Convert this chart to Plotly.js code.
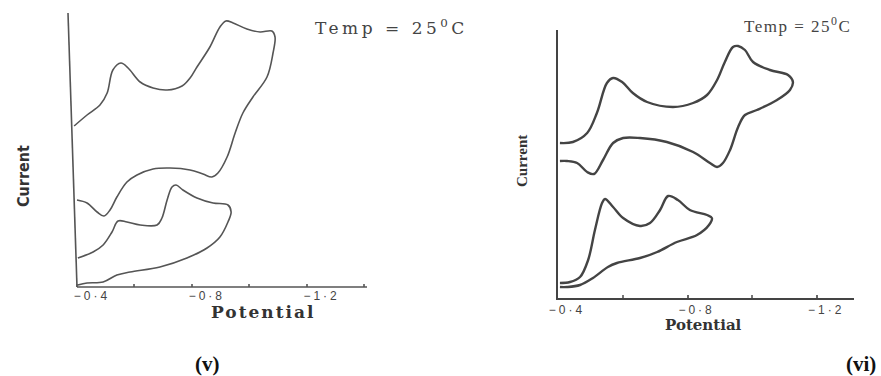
<!DOCTYPE html>
<html>
<head>
<meta charset="utf-8">
<script src="https://cdn.plot.ly/plotly-3.0.1.min.js"></script>
<style>html,body{margin:0;padding:0;background:#fff;}</style>
</head>
<body>
<div id="chart" style="width:881px;height:376px;"></div>
<script>
// Panel (v): potential (V) and current (arbitrary units)
const vUpperPotential = [-0.390,-0.435,-0.480,-0.505,-0.525,-0.553,-0.578,-0.620,-0.665,-0.714,-0.766,-0.794,-0.818,-0.863,-0.898,-0.919,-0.944,-0.992,-1.038,-1.079,-1.090,-1.083,-1.062,-1.013,-0.978,-0.951,-0.923,-0.891,-0.870,-0.839,-0.794,-0.724,-0.665,-0.609,-0.574,-0.539,-0.515,-0.494,-0.470,-0.435,-0.400];
const vUpperCurrent   = [16.1,17.2,18.2,19.4,21.7,22.4,21.9,20.5,19.9,19.7,20.1,20.9,22.0,24.0,26.0,26.6,26.4,25.8,25.5,25.6,25.0,23.4,21.0,19.0,17.4,15.4,13.0,11.4,11.0,11.3,11.7,11.9,11.8,11.2,10.5,9.0,7.7,7.1,7.5,8.4,8.7];
const vLowerPotential = [-0.403,-0.456,-0.491,-0.522,-0.543,-0.574,-0.620,-0.679,-0.696,-0.714,-0.731,-0.745,-0.769,-0.818,-0.874,-0.926,-0.937,-0.926,-0.898,-0.853,-0.783,-0.689,-0.585,-0.539,-0.491,-0.435,-0.403];
const vLowerCurrent   = [2.9,3.5,4.2,5.5,6.6,6.5,6.2,6.2,6.9,8.7,10.0,10.2,9.7,8.9,8.4,8.2,7.5,6.5,5.0,3.9,2.9,2.0,1.5,1.2,0.5,0.4,0.2];

// Panel (vi)
const viUpperPotential = [-0.406,-0.446,-0.490,-0.520,-0.551,-0.570,-0.598,-0.631,-0.675,-0.755,-0.817,-0.860,-0.891,-0.915,-0.940,-0.956,-0.977,-1.002,-1.054,-1.110,-1.125,-1.116,-1.076,-1.014,-0.977,-0.956,-0.931,-0.909,-0.891,-0.869,-0.817,-0.736,-0.653,-0.601,-0.570,-0.539,-0.511,-0.490,-0.459,-0.428,-0.406];
const viUpperCurrent   = [15.5,15.6,16.5,18.5,21.5,22.0,21.6,20.5,19.6,19.1,19.5,20.3,21.8,23.6,25.1,25.2,24.8,23.6,22.8,22.3,21.6,20.8,19.8,18.8,18.3,17.1,14.8,13.5,13.1,13.5,14.6,15.6,16.0,16.0,15.5,13.8,12.4,12.6,13.5,13.7,13.7];
const viLowerPotential = [-0.406,-0.437,-0.468,-0.493,-0.514,-0.536,-0.545,-0.570,-0.601,-0.653,-0.684,-0.715,-0.740,-0.770,-0.807,-0.860,-0.875,-0.866,-0.829,-0.767,-0.706,-0.653,-0.582,-0.554,-0.508,-0.468,-0.428,-0.406];
const viLowerCurrent   = [1.5,1.6,2.1,3.8,6.8,9.5,9.9,9.1,8.0,7.2,7.5,8.8,10.2,9.8,8.8,8.3,8.0,7.3,6.3,5.6,4.6,4.0,3.5,3.1,2.0,1.3,1.1,1.1];

const tickValues = [-0.4,-0.8,-1.2];
const tickLabels = ['−0·4','−0·8','−1·2'];

const W = 881, H = 376;
const px = v => v / W;
const py = v => 1 - v / H;

function cv(x, y, xa, ya, color, width) {
  return {x: x, y: y, xaxis: xa, yaxis: ya, type: 'scatter', mode: 'lines',
          line: {color: color, width: width, shape: 'spline', smoothing: 1},
          hoverinfo: 'skip'};
}

const data = [
  cv(vUpperPotential, vUpperCurrent, 'x', 'y', '#555', 1.6),
  cv(vLowerPotential, vLowerCurrent, 'x', 'y', '#555', 1.6),
  cv(viUpperPotential, viUpperCurrent, 'x2', 'y2', '#444', 2.4),
  cv(viLowerPotential, viLowerCurrent, 'x2', 'y2', '#444', 2.4)
];

const tickFont = {family: 'Liberation Sans, Arial, sans-serif', size: 12, color: '#444'};
const spacedLabels = tickLabels.map(t => '<span style="letter-spacing:3px">' + t + '</span>');
const minorTicks = {tick0: -0.4, dtick: 0.2, ticks: 'inside', ticklen: 3, tickwidth: 2, tickcolor: '#777', showgrid: false};

const layout = {
  width: W, height: H,
  margin: {l: 0, r: 0, t: 0, b: 0},
  paper_bgcolor: '#fff', plot_bgcolor: 'rgba(0,0,0,0)',
  showlegend: false,
  xaxis: {domain: [px(66), px(367)], range: [-0.4 + 11/287, -0.4 - 290/287], anchor: 'y',
          showline: false, showgrid: false, zeroline: false,
          tickmode: 'array', tickvals: tickValues, ticktext: spacedLabels,
          ticks: 'inside', ticklen: 3, tickwidth: 2, tickcolor: '#777',
          minor: minorTicks,
          tickfont: tickFont, ticklabelshift: -15},
  yaxis: {domain: [py(287), py(13)], range: [0, 27.4], anchor: 'x',
          showline: false, showgrid: false, zeroline: false, showticklabels: false, ticks: ''},
  xaxis2: {domain: [px(558), px(854)], range: [-0.4, -0.4 - 296/324], anchor: 'y2',
          showline: true, linecolor: '#444', linewidth: 2, showgrid: false, zeroline: false,
          tickmode: 'array', tickvals: tickValues, ticktext: spacedLabels,
          ticks: 'inside', ticklen: 3, tickwidth: 2, tickcolor: '#666',
          minor: minorTicks,
          tickfont: tickFont, ticklabelshift: -9},
  yaxis2: {domain: [py(298), py(30)], range: [0, 26.8], anchor: 'x2',
          showline: true, linecolor: '#444', linewidth: 2,
          showgrid: false, zeroline: false, showticklabels: false, ticks: ''},
  shapes: [
    {type: 'line', xref: 'x', yref: 'y domain', x0: -0.4, x1: -0.4 - 290/287, y0: 0, y1: 0,
     line: {color: '#555', width: 1.6}},
    {type: 'line', xref: 'x', yref: 'y domain', x0: -0.4, x1: -0.4 + 9/287, y0: 0, y1: 1,
     line: {color: '#555', width: 1.6}}
  ],
  annotations: [
    {text: 'Current', x: px(23), y: py(176), xref: 'paper', yref: 'paper', showarrow: false,
     textangle: -90, xanchor: 'center', yanchor: 'middle',
     font: {family: 'DejaVu Sans Condensed, DejaVu Sans, sans-serif', size: 16, weight: 'bold', color: '#333'}},
    {text: 'Current', x: px(522), y: py(161), xref: 'paper', yref: 'paper', showarrow: false,
     textangle: -90, xanchor: 'center', yanchor: 'middle',
     font: {family: 'Liberation Serif, serif', size: 15, weight: 'bold', color: '#333'}},
    {text: '<span style="letter-spacing:2px">Potential</span>', x: px(263), y: py(312), xref: 'paper', yref: 'paper',
     showarrow: false, xanchor: 'center', yanchor: 'middle',
     font: {family: 'DejaVu Serif, serif', size: 17, weight: 'bold', color: '#333'}},
    {text: 'Potential', x: px(703), y: py(325), xref: 'paper', yref: 'paper',
     showarrow: false, xanchor: 'center', yanchor: 'middle',
     font: {family: 'DejaVu Serif, serif', size: 15, weight: 'bold', color: '#333'}},
    {text: '<span style="letter-spacing:3.5px">Temp = 25<sup>0</sup>C</span>', x: px(391), y: py(27), xref: 'paper', yref: 'paper',
     showarrow: false, xanchor: 'center', yanchor: 'middle',
     font: {family: 'DejaVu Serif, serif', size: 17, color: '#444'}},
    {text: '<span style="letter-spacing:1.5px">Temp = 25<sup>0</sup>C</span>', x: px(797), y: py(25), xref: 'paper', yref: 'paper',
     showarrow: false, xanchor: 'center', yanchor: 'middle',
     font: {family: 'Liberation Serif, serif', size: 17, color: '#444'}},
    {text: '(v)', x: px(207), y: py(364), xref: 'paper', yref: 'paper', showarrow: false,
     xanchor: 'center', yanchor: 'middle',
     font: {family: 'Liberation Serif, serif', size: 21, weight: 'bold', color: '#111'}},
    {text: '(vi)', x: px(861), y: py(364), xref: 'paper', yref: 'paper', showarrow: false,
     xanchor: 'center', yanchor: 'middle',
     font: {family: 'Liberation Serif, serif', size: 21, weight: 'bold', color: '#111'}}
  ]
};

Plotly.newPlot('chart', data, layout, {staticPlot: true, displayModeBar: false});
</script>
</body>
</html>
